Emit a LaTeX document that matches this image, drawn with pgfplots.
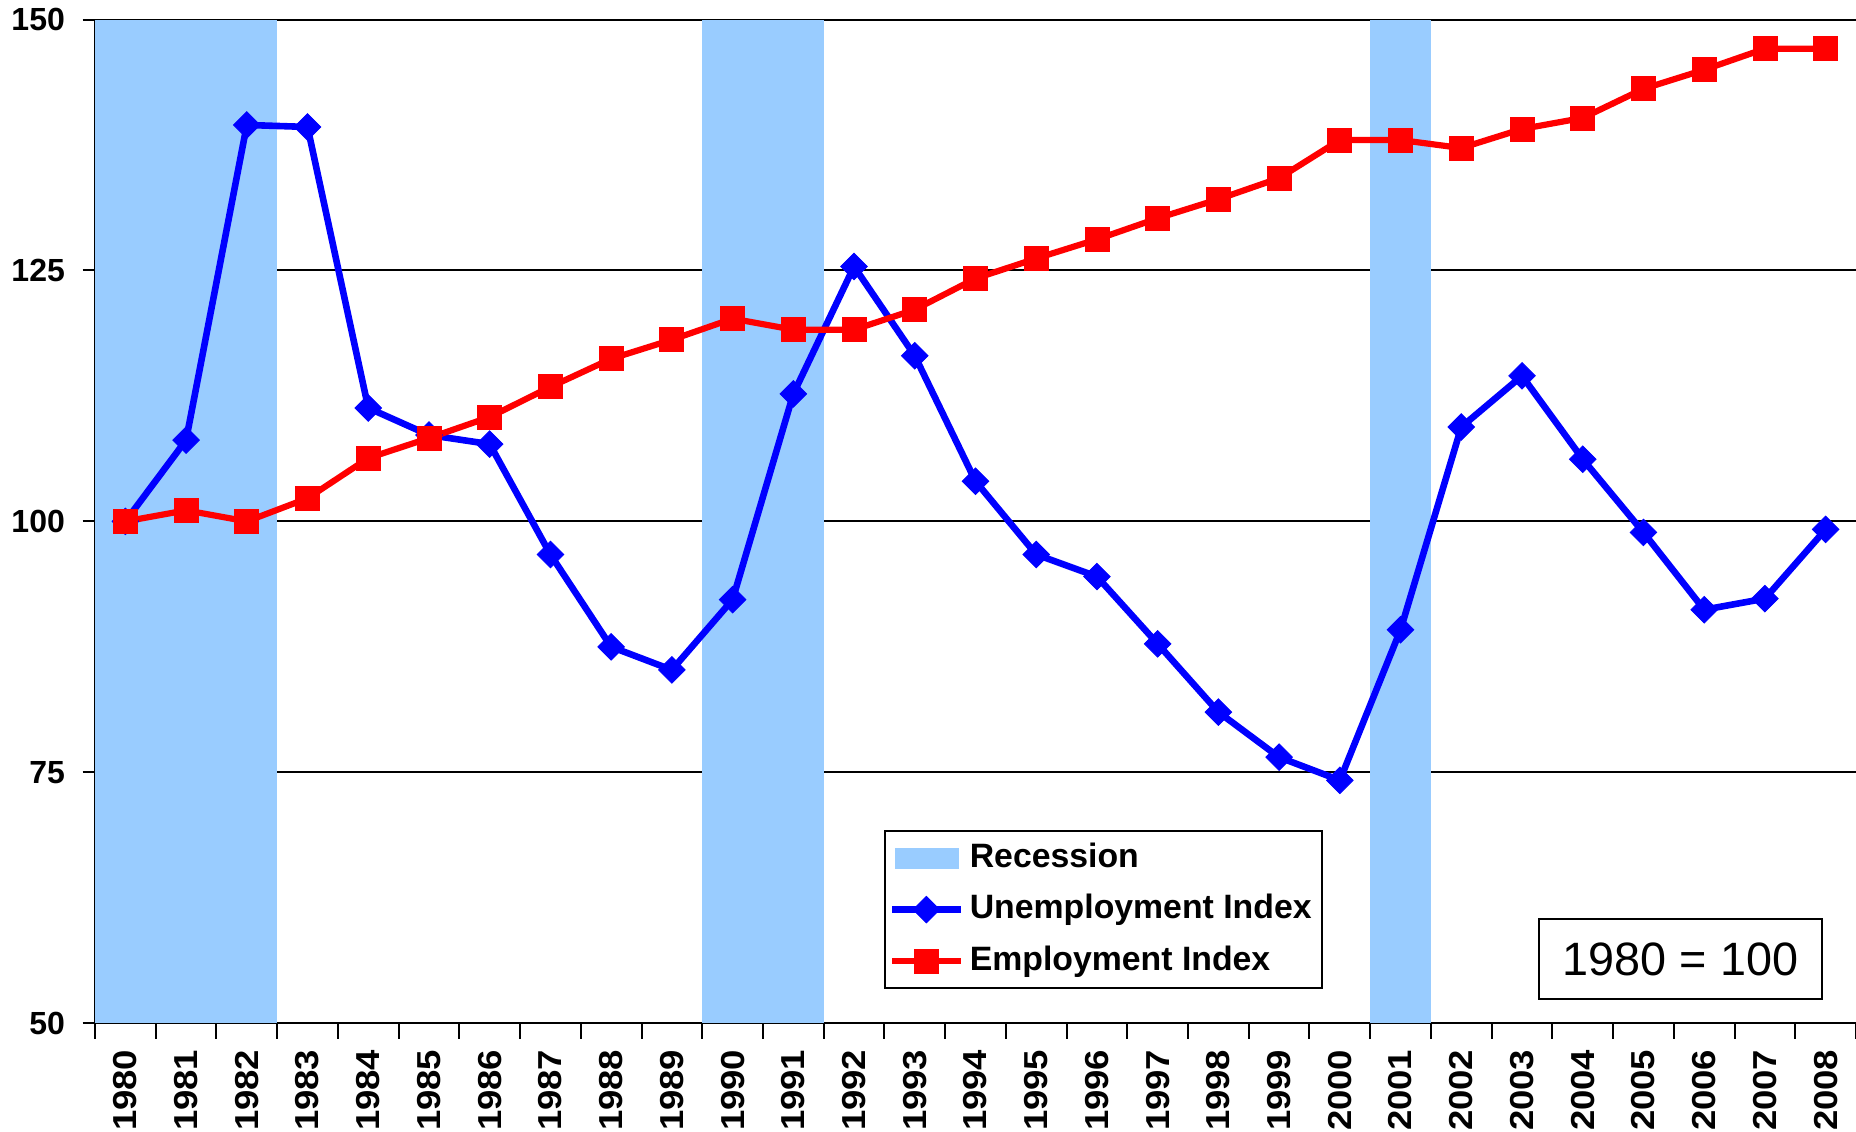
\documentclass[border=0pt]{standalone}
\usepackage{pgfplots}
\pgfplotsset{compat=1.18}
\usepackage{fontspec}
\setmainfont{Liberation Sans}
\definecolor{recess}{HTML}{99CCFF}
\definecolor{ublue}{HTML}{0000FF}
\definecolor{ered}{HTML}{FF0000}
\pgfplotsset{layers/mylayers/.define layer set={axis background,axis grid,main,axis ticks,axis lines,axis tick labels,axis descriptions,axis foreground}{}}
\begin{document}
\begin{tikzpicture}
\begin{axis}[
  set layers=mylayers,
  at={(23.75pt,27.2pt)}, anchor=south west,
  width=440.25pt, height=250.9pt, scale only axis,
  xmin=1979.5, xmax=2008.5, ymin=50, ymax=150,
  axis lines=left, axis line style={-, line width=0.5pt, black},
  xtick={1980,1981,...,2008},
  minor xtick={1979.5,1980.5,...,2008.5},
  ytick={50,75,100,125,150},
  ymajorgrids, grid style={black, line width=0.5pt},
  tick align=outside,
  major tick length=3.1pt, minor tick length=3.9pt,
  tick style={black, line width=0.5pt},
  major x tick style={draw=none},
  /pgf/number format/assume math mode=true,
  /pgf/number format/1000 sep={},
  yticklabel style={font=\bfseries\fontsize{8}{9}\selectfont, xshift=-0.9pt},
  xticklabel style={rotate=90, anchor=east, font=\bfseries\fontsize{8.3}{9}\selectfont},
  xticklabel={\scalebox{1.1}[1]{\pgfmathprintnumber{\tick}}},
  legend cell align=left,
  legend style={at={(0.448,0.192)}, anchor=north west, draw=black, line width=0.5pt,
    font=\bfseries\fontsize{8.45}{9}\selectfont, inner xsep=1pt, inner ysep=0.3pt,
    row sep=0pt, nodes={inner ysep=2.6pt, inner xsep=1.5pt}},
]
\addplot[fill=recess, draw=none, area legend,
  legend image code/.code={\fill[recess] (0.8pt,-2.65pt) rectangle (16.6pt,2.65pt);}]
  coordinates {(1979.5,50) (1979.5,150) (1982.5,150) (1982.5,50)} -- cycle;
\addlegendentry{Recession}
\addplot[fill=recess, draw=none, forget plot]
  coordinates {(1989.5,50) (1989.5,150) (1991.5,150) (1991.5,50)} -- cycle;
\addplot[fill=recess, draw=none, forget plot]
  coordinates {(2000.5,50) (2000.5,150) (2001.5,150) (2001.5,50)} -- cycle;

\addplot[color=ublue, line width=1.65pt, mark=square*, mark size=2.35pt,
  mark options={solid, rotate=45, line width=0.2pt, fill=ublue}]
  coordinates {
  (1980,100) (1981,108.1) (1982,139.5) (1983,139.3) (1984,111.3) (1985,108.6)
  (1986,107.7) (1987,96.7) (1988,87.5) (1989,85.2) (1990,92.2) (1991,112.7)
  (1992,125.4) (1993,116.5) (1994,104.0) (1995,96.7) (1996,94.5) (1997,87.8)
  (1998,81.0) (1999,76.5) (2000,74.2) (2001,89.2) (2002,109.4) (2003,114.5)
  (2004,106.2) (2005,98.9) (2006,91.2) (2007,92.3) (2008,99.2)};
\addlegendentry{Unemployment Index}

\addplot[color=ered, line width=1.55pt, mark=square*, mark size=3.0pt,
  mark options={solid, line width=0.2pt, fill=ered}]
  coordinates {
  (1980,100) (1981,101.1) (1982,100.0) (1983,102.3) (1984,106.3) (1985,108.3)
  (1986,110.4) (1987,113.4) (1988,116.2) (1989,118.1) (1990,120.2) (1991,119.1)
  (1992,119.1) (1993,121.1) (1994,124.2) (1995,126.2) (1996,128.1) (1997,130.2)
  (1998,132.1) (1999,134.2) (2000,138.0) (2001,138.0) (2002,137.2) (2003,139.1)
  (2004,140.2) (2005,143.1) (2006,145.0) (2007,147.1) (2008,147.1)};
\addlegendentry{Employment Index}

\node[draw=black, line width=0.5pt, fill=white, minimum width=70.75pt,
  minimum height=20pt, inner sep=0pt, font=\fontsize{11.7}{13}\selectfont]
  at (rel axis cs:0.9003,0.064) {1980 = 100};
\end{axis}
\pgfresetboundingbox
\path[use as bounding box] (0,0) rectangle (464pt,283pt);
\end{tikzpicture}
\end{document}
